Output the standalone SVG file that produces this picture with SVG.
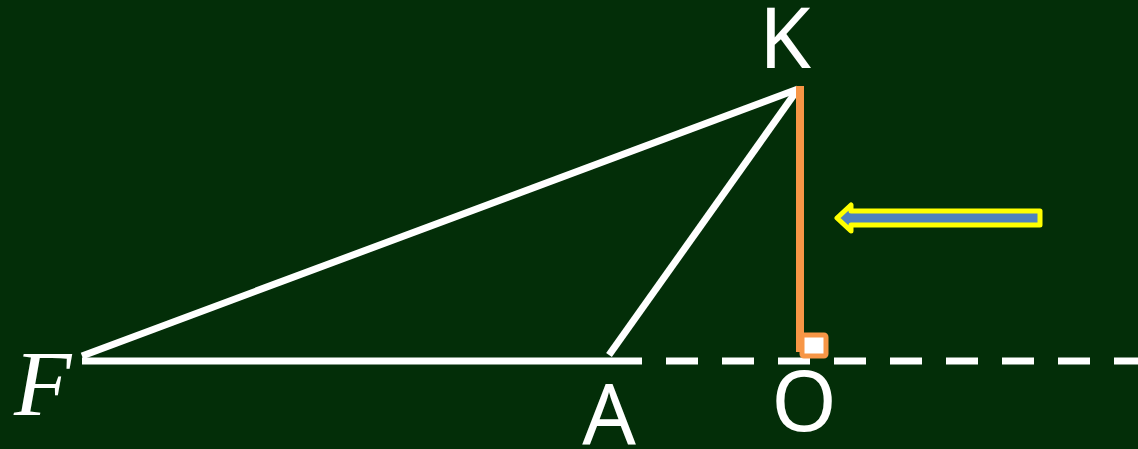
<svg xmlns="http://www.w3.org/2000/svg" width="1138" height="449" viewBox="0 0 1138 449">
<style>
.lbl{font-family:"Noto Sans","Open Sans",sans-serif;font-size:84px;fill:#ffffff;text-anchor:middle}
.w{stroke:#ffffff;stroke-width:7;fill:none}
</style>
<rect width="1138" height="449" fill="#032e08"/>
<g id="connectors">
<line class="w" x1="82" y1="356" x2="798" y2="89"/>
<line class="w" x1="609" y1="355" x2="798" y2="89"/>
<line class="w" x1="82" y1="361" x2="642" y2="361"/>
<line class="w" x1="666" y1="361" x2="1138" y2="361" stroke-dasharray="32 24"/>
<line x1="800" y1="86" x2="800" y2="352" stroke="#f79646" stroke-width="8"/>
</g>
<g id="rightangle">
<rect x="802" y="335" width="24" height="21" fill="#ffffff" stroke="#f79646" stroke-width="5" rx="2"/>
</g>
<g id="arrow">
<polygon points="837,218 851,205 851,211 1040,211 1040,225 851,225 851,231" fill="#4f81bd" stroke="#ffff00" stroke-width="5" stroke-linejoin="round"/>
</g>
<g id="K"><text class="lbl" x="785" y="68">K</text></g>
<g id="A"><text class="lbl" x="609" y="445">A</text></g>
<g id="O"><text class="lbl" x="804" y="431">O</text></g>
<g id="F"><text x="14" y="415" font-family="Liberation Serif,serif" font-style="italic" font-size="94" fill="#ffffff">F</text></g>
</svg>
